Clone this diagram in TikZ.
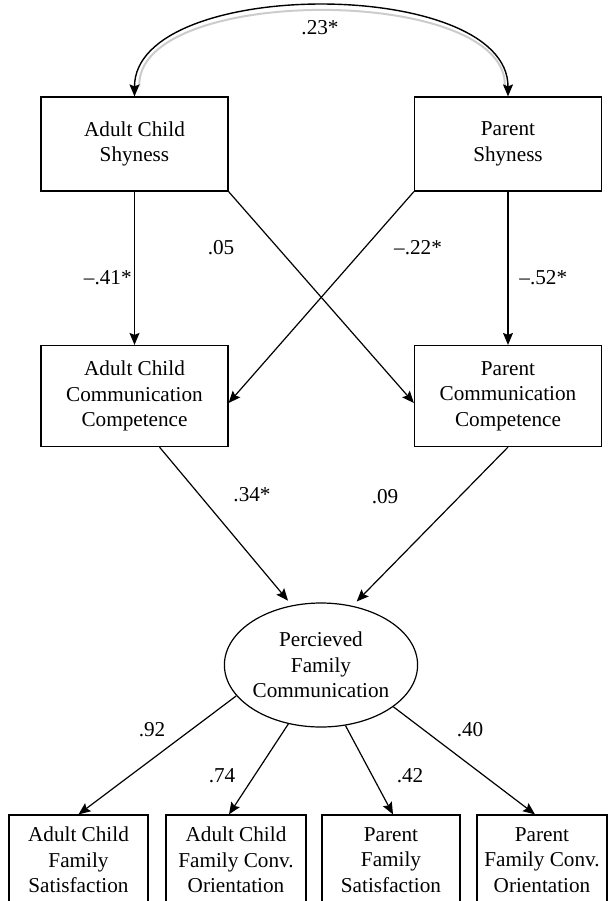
\documentclass[tikz,border=0pt]{standalone}
\usepackage{fontspec}
\setmainfont{Liberation Serif}
\usetikzlibrary{arrows.meta,calc,shapes.geometric}
\tikzset{
  var/.style={draw,line width=0.6pt,align=center,inner sep=0pt,
              minimum width=93.5pt,minimum height=47pt},
  obs/.style={draw,line width=0.6pt,align=center,inner sep=0pt,
              minimum width=69.5pt,minimum height=45pt},
  lat/.style={ellipse,draw,line width=0.6pt,align=center,inner sep=0pt,
              minimum width=90pt,minimum height=62pt},
  effect/.style={-{Stealth[length=6pt,width=5pt,inset=1pt]},line width=0.6pt},
  cov/.style={{Stealth[length=6pt,width=5pt,inset=1pt]}-{Stealth[length=6pt,width=5pt,inset=1pt]},
              line width=0.7pt},
  coef/.style={inner sep=0pt},
}
\begin{document}
\begin{tikzpicture}[x=0.5pt,y=-0.5pt,
  every node/.style={font=\fontsize{10.6}{12.75}\selectfont}]
  \clip (0,0) rectangle (608,901);
  \node[var](acs) at (134.5,144){Adult Child\\Shyness};
  \node[var](ps) at (508,144){Parent\\Shyness};
  \node[var,minimum height=50.5pt](acc) at (134.5,396){Adult Child\\Communication\\Competence};
  \node[var,minimum height=50.5pt](pcc) at (508,396){Parent\\Communication\\Competence};
  \node[lat](pfc) at (321,665){Percieved\\Family\\Communication};
  \node[obs](acfs) at (78.5,860){Adult Child\\Family\\Satisfaction};
  \node[obs,minimum width=70pt](acfo) at (236,860){Adult Child\\Family Conv.\\Orientation};
  \node[obs,minimum width=69pt](pfs) at (391,860){Parent\\Family\\Satisfaction};
  \node[obs,minimum width=65pt](pfo) at (542,860){Parent\\Family Conv.\\Orientation};

  \draw[black!20,line width=1pt,transform canvas={shift={(0.4pt,-1pt)}}]
    ($(acs.north)+(4,-12)$) .. controls ($(acs.north)+(0,-114)$) and ($(ps.north)+(0,-114)$) .. ($(ps.north)+(-4,-12)$);
  \draw[cov](acs.north) .. controls ($(acs.north)+(0,-120)$) and ($(ps.north)+(0,-120)$) .. (ps.north);
  \draw[effect](acs)--(acc);
  \draw[effect](ps)--(pcc);
  \draw[effect](acs.south east)--($(pcc.west)+(0,7)$);
  \draw[effect](ps.south west)--($(acc.east)+(0,7)$);
  \draw[effect,shorten >=3pt]($(acc.south)+(25,0)$)--(pfc.116);
  \draw[effect,shorten >=3pt](pcc.south)--(pfc.62);
  \draw[effect](pfc.200)--(acfs.north);
  \draw[effect](pfc.241)--($(acfo.north)+(-7,0)$);
  \draw[effect](pfc.292)--($(pfs.north)+(2,0)$);
  \draw[effect](pfc.330)--($(pfo.north)+(-7,0)$);

  \node[coef](l23) at (320,28){.23*};
  \node[coef,anchor=east](l41) at (132,278){--.41*};
  \node[coef](l05) at (221,248){.05};
  \node[coef](l22) at (418,248){--.22*};
  \node[coef,anchor=west](l52) at (519,278){--.52*};
  \node[coef](l34) at (252,495){.34*};
  \node[coef](l09) at (385,497){.09};
  \node[coef](l92) at (152,730){.92};
  \node[coef](l74) at (222,776){.74};
  \node[coef](l42) at (410,776){.42};
  \node[coef](l40) at (470,730){.40};
\end{tikzpicture}
\end{document}
